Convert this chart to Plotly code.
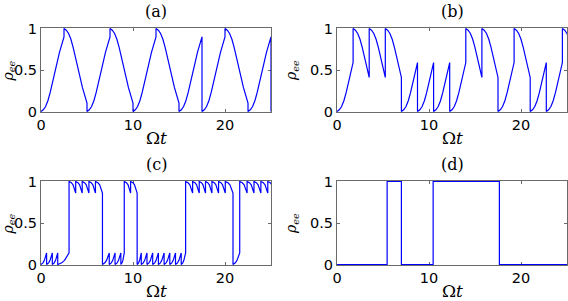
import plotly.graph_objects as go

# ---------------- data ----------------
# sample offsets inside one measurement interval (units of Omega t)
OFFS = [0, 0.25, 0.5, 0.75, 1.0, 1.25, 1.5, 1.75, 2.0, 2.25, 2.5]
# rising branch (starting in ground state) and falling branch (starting excited)
RISE = [0, 0.02, 0.06, 0.13, 0.23, 0.34, 0.47, 0.59, 0.71, 0.81, 0.90]
FALL = [1, 0.98, 0.94, 0.87, 0.77, 0.66, 0.53, 0.41, 0.29, 0.19, 0.10]

# panel (a): measurement every 2.5
A_T0 = [0, 2.5, 5, 7.5, 10, 12.5, 15, 17.5, 20, 22.5]
A_START = [0, 1, 0, 1, 0, 1, 0, 0, 1, 0]
A_NSAMP = 11
A_FINAL = [(25, 0)]

# panel (b): measurement every 1.75
B_T0 = [0, 1.75, 3.5, 5.25, 7.0, 8.75, 10.5, 12.25, 14.0, 15.75, 17.5, 19.25, 21.0, 22.75, 24.5]
B_START = [0, 1, 1, 1, 0, 0, 0, 0, 1, 1, 0, 1, 0, 0, 1]
B_NSAMP = 8

# panel (c): short intervals, small teeth near 0 and 1
TOOTH_F = [0, 0.35, 0.6, 0.8, 1.0]
LOW_TOOTH = [0, 0.02, 0.05, 0.09, 0.14]
HIGH_TOOTH = [1, 0.985, 0.96, 0.92, 0.86]
C_EDGES = [0, 0.61, 1.23, 1.82, 3.05, 3.77, 4.48, 5.21, 5.92, 6.68, 7.42, 8.05, 8.68,
           9.05, 9.74, 10.45, 10.9, 11.52, 12.14, 12.76, 13.38, 14.0, 14.62, 15.24,
           15.72, 16.48, 17.2, 17.88, 18.58, 19.3, 20.03, 20.87, 21.6, 22.4, 23.15,
           23.9, 24.65, 25.4]
C_LEVELS = [0, 0, 0, 0, 1, 1, 1, 1, 1, 0, 0, 0, 0, 1, 1, 0, 0, 0, 0, 0, 0, 0, 0, 0,
            1, 1, 1, 1, 1, 1, 1, 0, 1, 1, 1, 1, 1]

# panel (d): frozen (Zeno) dynamics
D_T = [0, 5.45, 7.0, 10.45, 17.65, 25]
D_RHO = [0, 1, 0, 1, 0, 0]

X_TICKS = [0, 10, 20]
Y_TICKS = [0, 0.5, 1]
Y_TICKTEXT = ["0", "0.5", "1"]
PANEL_TITLES = ["(a)", "(b)", "(c)", "(d)"]


def build_periodic(t0s, starts, n, extra=()):
    t, y = [], []
    for s, lev in zip(t0s, starts):
        shape = RISE if lev == 0 else FALL
        for o, v in zip(OFFS[:n], shape[:n]):
            t.append(s + o)
            y.append(v)
    for tt, yy in extra:
        t.append(tt)
        y.append(yy)
    return t, y


def build_teeth(edges, levels):
    t, y = [], []
    for i, lev in enumerate(levels):
        a, b = edges[i], edges[i + 1]
        shape = LOW_TOOTH if lev == 0 else HIGH_TOOTH
        for f, v in zip(TOOTH_F, shape):
            t.append(a + f * (b - a))
            y.append(v)
    return t, y


ta, ya = build_periodic(A_T0, A_START, A_NSAMP, A_FINAL)
tb, yb = build_periodic(B_T0, B_START, B_NSAMP)
tc, yc = build_teeth(C_EDGES, C_LEVELS)

W, H = 568, 301
BLUE = "#0000ff"
AX = "#6a6a6a"

fig = go.Figure()
fig.add_trace(go.Scatter(x=ta, y=ya, mode="lines", line=dict(color=BLUE, width=1.2),
                         xaxis="x", yaxis="y", showlegend=False))
fig.add_trace(go.Scatter(x=tb, y=yb, mode="lines", line=dict(color=BLUE, width=1.2),
                         xaxis="x2", yaxis="y2", showlegend=False))
fig.add_trace(go.Scatter(x=tc, y=yc, mode="lines", line=dict(color=BLUE, width=1.2),
                         xaxis="x3", yaxis="y3", showlegend=False))
fig.add_trace(go.Scatter(x=D_T, y=D_RHO, mode="lines", line=dict(color=BLUE, width=1.2, shape="hv"),
                         xaxis="x4", yaxis="y4", showlegend=False))

# pixel boxes of the four plot areas: (left, right, top, bottom)
BOXES = [(41, 271, 28, 112), (337, 567, 28, 112), (41, 271, 181, 265), (337, 567, 181, 265)]
YLAB_X = [8.5, 292, 8.5, 292]

tickfont = dict(family="DejaVu Sans", size=14.5, color="black")
layout = dict(width=W, height=H, autosize=False,
              margin=dict(l=0, r=0, t=0, b=0, pad=0, autoexpand=False),
              paper_bgcolor="white", plot_bgcolor="white", showlegend=False)
annotations = []
for i, (l, r, t, b) in enumerate(BOXES):
    sfx = "" if i == 0 else str(i + 1)
    layout["xaxis" + sfx] = dict(
        domain=[l / W, r / W], anchor="y" + sfx, range=[0, 25], automargin=False,
        tickvals=X_TICKS, ticks="inside", ticklen=3, tickcolor=AX,
        showline=True, linecolor=AX, linewidth=1, mirror="allticks",
        showgrid=False, zeroline=False, tickfont=tickfont, layer="below traces")
    layout["yaxis" + sfx] = dict(
        domain=[(H - b) / H, (H - t) / H], anchor="x" + sfx, range=[-0.006, 1.006],
        automargin=False,
        tickvals=Y_TICKS, ticktext=Y_TICKTEXT, ticks="inside", ticklen=3, tickcolor=AX,
        showline=True, linecolor=AX, linewidth=1, mirror="allticks",
        showgrid=False, zeroline=False, tickfont=tickfont, layer="below traces")
    cx = (l + r) / 2 / W
    annotations.append(dict(text=PANEL_TITLES[i], x=cx, y=1 - (t - 17) / H, xref="paper", yref="paper",
                            showarrow=False, xanchor="center", yanchor="middle",
                            font=dict(family="DejaVu Serif", size=16, color="black")))
    annotations.append(dict(text="Ω<i>t</i>", x=cx, y=1 - (b + 25.5) / H, xref="paper", yref="paper",
                            showarrow=False, xanchor="center", yanchor="middle",
                            font=dict(family="DejaVu Serif", size=17, color="black")))
    annotations.append(dict(text="<i>ρ<sub>ee</sub></i>", x=YLAB_X[i] / W, y=1 - ((t + b) / 2 + 1) / H,
                            xref="paper", yref="paper", textangle=-90,
                            showarrow=False, xanchor="center", yanchor="middle",
                            font=dict(family="DejaVu Serif", size=14, color="black")))
layout["annotations"] = annotations
fig.update_layout(**layout)
fig.write_html("out.html", config={"displayModeBar": False},
               post_script="document.body.style.margin='0';document.body.style.overflow='hidden';")
